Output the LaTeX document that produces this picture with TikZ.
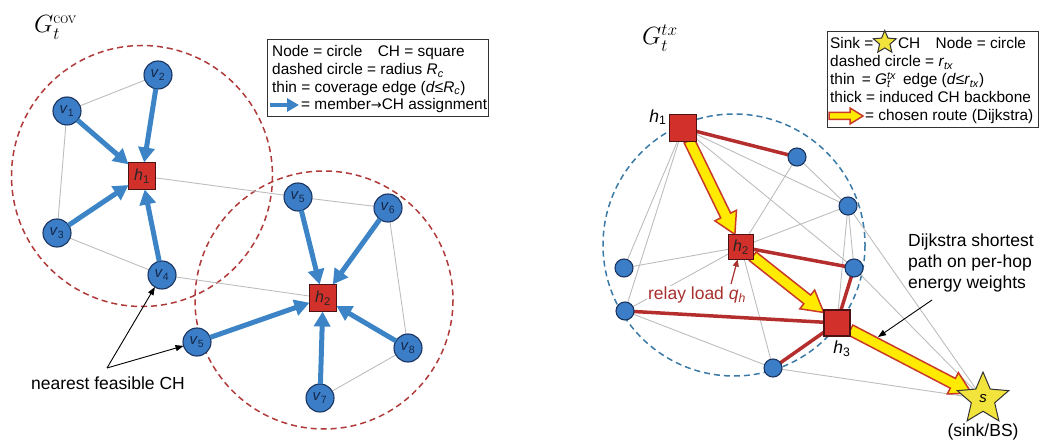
\documentclass[tikz,border=0pt]{standalone}
\usepackage[no-math]{fontspec}
\setmainfont{Liberation Sans}
\newfontfamily\symfnt{DejaVu Sans}
\usetikzlibrary{arrows.meta,shapes.geometric,calc,backgrounds}
\definecolor{covred}{HTML}{B03A3A}
\definecolor{txblue}{HTML}{3A7AA6}
\definecolor{nodeblue}{HTML}{3B7DC6}
\definecolor{nodeedge}{HTML}{1B3560}
\definecolor{nodetext}{HTML}{14284A}
\definecolor{arrblue}{HTML}{3C84C6}
\definecolor{chred}{HTML}{D2302B}
\definecolor{chedge}{HTML}{4A1212}
\definecolor{bbred}{HTML}{B52E2E}
\definecolor{routeyellow}{HTML}{FFEA00}
\definecolor{routered}{HTML}{C93A2A}
\definecolor{edgegrey}{HTML}{BDBDBD}
\definecolor{sinkyellow}{HTML}{F2E43C}
\definecolor{relayred}{HTML}{A8302E}
\newcommand\lab[2]{\textit{#1}\textsubscript{#2}}
\newcommand\routearrow[5]{%
  \path #1 coordinate (rA) #2 coordinate (rB);
  \path ($(rB)!#5!(rA)$) coordinate (rH);
  \filldraw[route] ($(rA)!#3!90:(rB)$) -- ($(rH)!#3!90:(rB)$) -- ($(rH)!#4!90:(rB)$) -- (rB)
    -- ($(rH)!#4!-90:(rB)$) -- ($(rH)!#3!-90:(rB)$) -- ($(rA)!#3!-90:(rB)$) -- cycle;
}
\begin{document}
\begin{tikzpicture}[x=1pt,y=-1pt,
  vnode/.style={circle,fill=nodeblue,draw=nodeedge,line width=1.1pt,minimum size=28pt,inner sep=0pt,outer sep=0pt,text=nodetext,font=\fontsize{15}{15}\selectfont},
  chsq/.style={rectangle,fill=chred,draw=chedge,line width=1.1pt,minimum size=27pt,inner sep=0pt,outer sep=0pt,text=black!85,font=\fontsize{16}{16}\selectfont},
  rdot/.style={circle,fill=nodeblue,draw=nodeedge,line width=1.1pt,minimum size=18pt,inner sep=0pt,outer sep=0pt},
  thinedge/.style={draw=edgegrey,line width=0.9pt},
  bluearr/.style={draw=arrblue,line width=5pt,-{Triangle[length=15pt,width=16pt]}},
  backbone/.style={draw=bbred,line width=3.5pt},
  covcirc/.style={draw=covred,dash pattern=on 6pt off 4pt,line width=1.5pt},
  txcirc/.style={draw=txblue,dash pattern=on 6pt off 4pt,line width=1.5pt},
  route/.style={fill=routeyellow,draw=routered,line width=1.5pt,line join=miter},
  callout/.style={draw=black,line width=0.9pt,-{Triangle[length=8pt,width=6pt]}},
  loadarr/.style={draw=relayred,line width=1.2pt,-{Triangle[length=7pt,width=6pt]}},
  legbox/.style={draw=black!80,line width=1pt,fill=white},
  legtxt/.style={inner sep=0pt,font=\fontsize{15.4}{18}\selectfont,anchor=base west},
  bigtxt/.style={inner sep=0pt,font=\fontsize{17.5}{21}\selectfont},
  sinkstar/.style={star,star points=5,star point ratio=2.2,fill=sinkyellow,draw=black!80,line width=1pt,inner sep=0pt,outer sep=0pt}
]
\useasboundingbox (0,0) rectangle (1043,443);

% ---------------- left panel ----------------
\node[inner sep=0pt,anchor=base west,font=\fontsize{27}{30}\selectfont] (t1) at (34,33) {$G_t^{\mathrm{cov}}$};

\node[vnode] (v1) at (67,111) {\lab{v}{1}};
\node[vnode] (v2) at (158,75) {\lab{v}{2}};
\node[chsq] (lh1) at (142,176) {\lab{h}{1}};
\node[vnode] (v3) at (57,233) {\lab{v}{3}};
\node[vnode] (v4) at (162,275) {\lab{v}{4}};
\node[vnode] (v5u) at (298,197) {\lab{v}{5}};
\node[vnode] (v6) at (388,208) {\lab{v}{6}};
\node[chsq] (lh2) at (323,298) {\lab{h}{2}};
\node[vnode] (v5l) at (197,342) {\lab{v}{5}};
\node[vnode] (v8) at (408,348) {\lab{v}{8}};
\node[vnode] (v7) at (320,398) {\lab{v}{7}};

\begin{scope}[on background layer]
  \draw[covcirc] (142,176) circle[radius=130.5];
  \draw[covcirc] (324,300) circle[radius=129];
  \draw[thinedge] (v1) -- (v2);
  \draw[thinedge] (v1) -- (v3);
  \draw[thinedge] (v3) -- (v4);
  \draw[thinedge] (lh1) -- (v5u);
  \draw[thinedge] (v5u) -- (v6);
  \draw[thinedge] (v6) -- (v8);
  \draw[thinedge] (v4) -- (lh2);
  \draw[thinedge] (v8) -- (v7);
\end{scope}

\draw[bluearr] (v1) -- (lh1);
\draw[bluearr] (v2) -- (lh1);
\draw[bluearr] (v3) -- (lh1);
\draw[bluearr] (v4) -- (lh1);
\draw[bluearr] (v5u) -- (lh2);
\draw[bluearr] (v6) -- (lh2);
\draw[bluearr] (v5l) -- (lh2);
\draw[bluearr] (v7) -- (lh2);
\draw[bluearr] (v8) -- (lh2);

\coordinate (nfc) at (107,368);
\draw[callout] (nfc) -- (v4);
\draw[callout] (nfc) -- (v5l);
\node[bigtxt,anchor=base] (nfctext) at (108,389) {nearest feasible CH};

% left legend
\draw[legbox] (267,40) rectangle (488,117);
\node[legtxt] (ll1) at (272,57) {Node = circle\quad CH = square};
\node[legtxt] (ll2) at (272,75) {dashed circle = radius \textit{R}\textsubscript{\textit{c}}};
\node[legtxt] (ll3) at (272,92.5) {thin = coverage edge (\textit{d}≤\textit{R}\textsubscript{\textit{c}})};
\coordinate (li1) at (270,105);
\coordinate (li2) at (299,105);
\draw[draw=arrblue,line width=4.5pt,-{Triangle[length=12pt,width=13pt]}] (li1) -- (li2);
\node[legtxt] (ll4) at (301,110) {= member{\symfnt\fontsize{13}{18}\selectfont →}CH assignment};

% ---------------- right panel ----------------
\node[inner sep=0pt,anchor=base west,font=\fontsize{27}{30}\selectfont] (t2) at (642,45) {$G_t^{tx}$};

\node[chsq,minimum size=27pt] (rh1) at (683,128) {};
\node[rdot] (na) at (797,157) {};
\node[rdot] (nb) at (848,206) {};
\node[rdot] (nc) at (624,268) {};
\node[rdot] (nd) at (854,268) {};
\node[rdot] (ne) at (625,311) {};
\node[chsq,minimum size=25pt] (rh2) at (741,247) {\lab{h}{2}};
\node[chsq,minimum size=26pt] (rh3) at (837,323) {};
\node[rdot] (nf) at (773,368) {};
\node[sinkstar,minimum size=54pt,font=\fontsize{15}{15}\selectfont] (sink) at (983,399) {\textit{s}};

\node[inner sep=0pt,font=\fontsize{17.5}{17.5}\selectfont] (h1lab) at (658,117) {\lab{h}{1}};
\node[inner sep=0pt,font=\fontsize{17.5}{17.5}\selectfont] (h3lab) at (842,349) {\lab{h}{3}};
\node[bigtxt,anchor=base] (sinklab) at (983,436) {(sink/BS)};

\begin{scope}[on background layer]
  \draw[txcirc] (734,245) circle[radius=131];
  \draw[thinedge] (rh1) -- (nc);
  \draw[thinedge] (rh1) -- (ne);
  \draw[thinedge] (rh1) -- (nb);
  \draw[thinedge] (rh1) -- (nd);
  \draw[thinedge] (na) -- (rh2);
  \draw[thinedge] (na) -- (nb);
  \draw[thinedge] (nb) -- (rh2);
  \draw[thinedge] (nb) -- (nd);
  \draw[thinedge] (nb) -- (rh3);
  \draw[thinedge] (nb) -- (sink);
  \draw[thinedge] (nd) -- (sink);
  \draw[thinedge] (nc) -- (rh2);
  \draw[thinedge] (ne) -- (rh2);
  \draw[thinedge] (rh2) -- (nf);
  \draw[thinedge] (ne) -- (nf);
  \draw[thinedge] (nf) -- (sink);
  \draw[backbone] (rh1) -- (na);
  \draw[backbone] (rh2) -- (nd);
  \draw[backbone] (nd) -- (rh3);
  \draw[backbone] (ne) -- (rh3);
  \draw[backbone] (nf) -- (rh3);
  \routearrow{($(rh1)!14pt!(rh2)$)}{($(rh2)!14pt!(rh1)$)}{5.5pt}{12pt}{21pt}
  \routearrow{($(rh2)!15pt!(rh3)$)}{($(rh3)!17pt!(rh2)$)}{5.5pt}{12pt}{21pt}
  \routearrow{($(rh3)!15pt!(sink)$)}{($(sink)!13pt!(rh3)$)}{5.5pt}{12pt}{21pt}
\end{scope}

\node[bigtxt,text=relayred,fill=white,inner sep=1.5pt,anchor=base] (relay) at (697,300) {relay load \textit{q}\textsubscript{\textit{h}}};
\coordinate (relaytail) at (731,284);
\draw[loadarr] (relaytail) -- (rh2);

\node[bigtxt,align=left,anchor=north west] (dijk) at (908,234) {Dijkstra shortest\\path on per-hop\\energy weights};
\coordinate (dtail) at (932,300);
\coordinate (dhead) at (878,337);
\draw[callout] (dtail) -- (dhead);

% right legend
\draw[legbox] (827,32) rectangle (1038,128);
\node[legtxt] (rl1) at (830,49) {Sink =};
\node[sinkstar,minimum size=24pt,anchor=west] (lstar) at ($(rl1.east)+(4,-1)$) {};
\node[legtxt] (rl1b) at ($(lstar.east |- rl1.base)+(6,0)$) {CH\quad Node = circle};
\node[legtxt] (rl2) at (830,67) {dashed circle = \textit{r}\textsubscript{\textit{tx}}};
\node[legtxt] (rl3) at (830,85) {thin\, = \textit{G}\makebox[0pt][l]{\textsubscript{\textit{t}}}\textsuperscript{\textit{tx}}\, edge (\textit{d}≤\textit{r}\textsubscript{\textit{tx}})};
\node[legtxt] (rl4) at (830,103) {thick = induced CH backbone};
\coordinate (ri1) at (829,116);
\coordinate (ri2) at (863,116);
\routearrow{(ri1)}{(ri2)}{3.5pt}{8pt}{13pt}
\node[legtxt] (rl5) at (865,121) {= chosen route (Dijkstra)};
\end{tikzpicture}
\end{document}
